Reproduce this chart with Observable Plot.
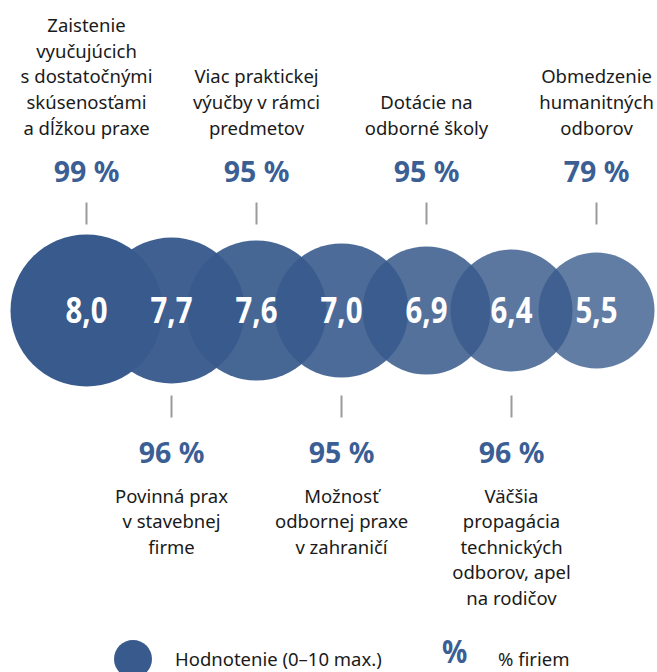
<!DOCTYPE html>
<html>
<head>
<meta charset="utf-8">
<script src="https://cdn.jsdelivr.net/npm/d3@7"></script>
<script src="https://cdn.jsdelivr.net/npm/@observablehq/plot@0.6"></script>
<style>
  html, body { margin: 0; padding: 0; background: #fff; }
  #chart { width: 657px; height: 672px; position: relative; overflow: hidden; font-family: "Noto Sans", sans-serif; }
  .lg-dot { position: absolute; left: 114px; top: 640px; width: 38px; height: 38px; border-radius: 50%; background: #385a8c; }
  .lg-t1 { position: absolute; left: 175px; top: 647px; font-size: 18.5px; color: #1a1a1a; white-space: nowrap; line-height: 24px; }
  .lg-pc { position: absolute; left: 442px; top: 632px; font-size: 33px; line-height: 38px; font-weight: 700; color: #3b5f95; transform: scaleX(0.85); transform-origin: left top; }
  .lg-t2 { position: absolute; left: 498px; top: 647px; font-size: 18.5px; color: #1a1a1a; white-space: nowrap; line-height: 24px; }
</style>
</head>
<body>
<div id="chart"></div>
<script>
const categories = [
  "Zaistenie\nvyučujúcich\ns dostatočnými\nskúsenosťami\na dĺžkou praxe",
  "Povinná prax\nv stavebnej\nfirme",
  "Viac praktickej\nvýučby v rámci\npredmetov",
  "Možnosť\nodbornej praxe\nv zahraničí",
  "Dotácie na\nodborné školy",
  "Väčšia\npropagácia\ntechnických\nodborov, apel\nna rodičov",
  "Obmedzenie\nhumanitných\nodborov"
];
const ratings = [8.0, 7.7, 7.6, 7.0, 6.9, 6.4, 5.5];
const shares = [99, 96, 95, 95, 95, 96, 79];
const legendLabels = ["Hodnotenie (0–10 max.)", "% firiem"];

const data = categories.map((c, i) => ({
  i, name: c, rating: ratings[i], share: shares[i], top: i % 2 === 0
}));
const topData = data.filter(d => d.top);
const botData = data.filter(d => !d.top);

const tickSymbol = {
  draw(ctx, size) {
    const l = Math.sqrt(size / Math.PI);
    ctx.moveTo(0, -l);
    ctx.lineTo(0, l);
  }
};

const fmt = v => v.toFixed(1).replace(".", ",");
const blue = "#385a8c";
const pctColor = "#3b5f95";

const plot = Plot.plot({
  width: 657,
  height: 620,
  marginLeft: 86,
  marginRight: 61,
  marginTop: 0,
  marginBottom: 0,
  style: { fontFamily: "Noto Sans, sans-serif", background: "transparent", overflow: "visible" },
  x: { type: "point", domain: d3.range(categories.length), padding: 0, axis: null },
  r: { type: "linear", domain: [0, 6], range: [76, 58] },
  opacity: { type: "linear", domain: [0, 6], range: [1, 0.79] },
  marks: [
    Plot.dot(data, {
      x: "i", frameAnchor: "middle", r: "i", fill: blue, fillOpacity: "i", stroke: "none"
    }),
    Plot.text(data, {
      x: "i", frameAnchor: "middle", text: d => fmt(d.rating), fill: "white",
      fontSize: 35, fontWeight: 700, lineAnchor: "middle", dy: 1
    }),
    // ticks
    Plot.dot(topData, {
      x: "i", frameAnchor: "middle", dy: -97, r: 11, symbol: tickSymbol,
      stroke: "#9a9a9a", strokeWidth: 2, fill: "none"
    }),
    Plot.dot(botData, {
      x: "i", frameAnchor: "middle", dy: 96, r: 11, symbol: tickSymbol,
      stroke: "#9a9a9a", strokeWidth: 2, fill: "none"
    }),
    // percent labels
    Plot.text(topData, {
      x: "i", frameAnchor: "middle", dy: -129, lineAnchor: "bottom",
      text: d => `${d.share} %`, fill: pctColor, fontSize: 28.5, fontWeight: 700
    }),
    Plot.text(botData, {
      x: "i", frameAnchor: "middle", dy: 152, lineAnchor: "bottom",
      text: d => `${d.share} %`, fill: pctColor, fontSize: 28.5, fontWeight: 700
    }),
    // category labels
    Plot.text(topData, {
      x: "i", frameAnchor: "middle", dy: -176, lineAnchor: "bottom", lineHeight: 1.38,
      text: "name", fill: "#1a1a1a", fontSize: 18.5
    }),
    Plot.text(botData, {
      x: "i", frameAnchor: "middle", dy: 174, lineAnchor: "top", lineHeight: 1.38,
      text: "name", fill: "#1a1a1a", fontSize: 18.5
    })
  ]
});
// condense the in-circle value labels horizontally
plot.querySelectorAll('text').forEach(t => {
  const g = t.closest('g');
  const fill = (t.getAttribute("fill") || (g && g.getAttribute("fill")) || "").toLowerCase();
  if (fill !== "white") return;
  const tr = t.getAttribute("transform");
  if (tr) {
    t.setAttribute("transform", tr + " scale(0.84,1)");
  } else {
    const x = +(t.getAttribute("x") || 0), y = +(t.getAttribute("y") || 0);
    t.removeAttribute("x"); t.removeAttribute("y");
    t.setAttribute("transform", `translate(${x},${y}) scale(0.84,1)`);
  }
});
const chart = document.getElementById("chart");
chart.appendChild(plot);
plot.style.position = "absolute";
plot.style.left = "0";
plot.style.top = "0";

const dot = document.createElement("div"); dot.className = "lg-dot"; chart.appendChild(dot);
const t1 = document.createElement("div"); t1.className = "lg-t1"; t1.textContent = legendLabels[0]; chart.appendChild(t1);
const pc = document.createElement("div"); pc.className = "lg-pc"; pc.textContent = "%"; chart.appendChild(pc);
const t2 = document.createElement("div"); t2.className = "lg-t2"; t2.textContent = legendLabels[1]; chart.appendChild(t2);
</script>
</body>
</html>
